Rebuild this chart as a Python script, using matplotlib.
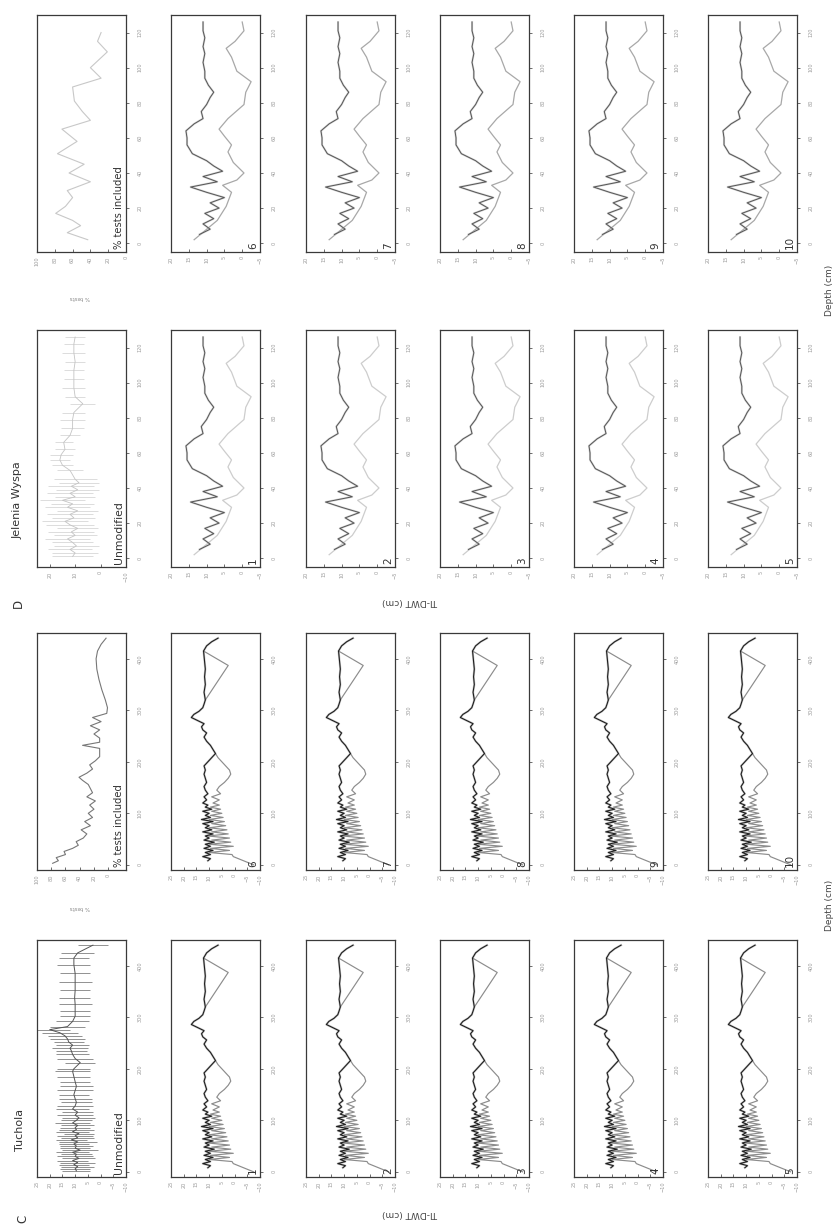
import matplotlib
matplotlib.use('Agg')
import matplotlib.pyplot as plt

# ---------------- data ----------------
# Tuchola: main (black) reconstruction
tu_k_depth = [8, 12, 16, 20, 24, 28, 32, 36, 40, 44,
              48, 52, 56, 60, 64, 68, 72, 76, 80, 84,
              88, 92, 96, 100, 104, 108, 112, 116, 120, 126,
              132, 138, 145, 152, 160, 168, 176, 184, 192, 200,
              208, 216, 224, 232, 240, 248, 256, 262, 268, 274,
              280, 286, 292, 298, 305, 312, 320, 335, 350, 365,
              380, 395, 405, 415, 425, 433, 440]
tu_k_val = [10.5, 9.5, 12.5, 9.5, 11.5, 8.5, 12.0, 9.5, 11.5, 8.0,
            12.0, 10.0, 11.5, 8.5, 12.5, 9.0, 11.5, 10.0, 12.5, 8.5,
            13.0, 9.5, 11.5, 10.0, 12.5, 9.0, 11.5, 10.5, 12.5, 11.0,
            12.0, 10.5, 11.5, 12.0, 11.0, 11.5, 12.0, 11.5, 12.0, 10.5,
            9.0, 7.5, 8.5, 9.5, 11.0, 12.0, 11.0, 12.5, 13.0, 12.0,
            14.5, 17.0, 16.0, 14.0, 12.5, 12.0, 11.5, 12.0, 11.5, 11.8,
            11.5, 11.8, 12.0, 12.2, 11.0, 9.0, 6.5]
# Tuchola: alternative (grey) reconstruction, lower part
tu_g_depth = [0, 4, 8, 12, 16, 20, 24, 28, 32, 36,
              40, 44, 48, 52, 56, 60, 64, 68, 72, 76,
              80, 84, 88, 92, 96, 100, 104, 108, 112, 116,
              120, 126, 132, 138, 145, 152, 160, 168, 176, 184,
              192, 200, 208, 216]
tu_g_val = [-7.5, -5.5, -3.5, -1.5, 0.5, 1.0, 10.0, 2.0, 9.5, 0.5,
            10.0, 1.5, 9.0, 2.0, 10.5, 2.5, 9.0, 3.0, 10.0, 3.5,
            9.0, 4.0, 10.0, 4.5, 9.5, 5.0, 9.0, 5.5, 9.5, 6.0,
            8.5, 6.0, 9.0, 5.5, 7.0, 6.0, 4.0, 2.5, 1.5, 2.0,
            3.5, 5.0, 6.5, 7.5]
# Tuchola: grey excursion near the top
tu_t_depth = [320, 387, 415]
tu_t_val = [11.5, 2.5, 12.2]
# Tuchola: unmodified values with error bars
tu_um_depth = [2, 6, 10, 14, 18, 22, 26, 30, 34, 38,
               42, 46, 50, 54, 58, 62, 66, 70, 74, 78,
               82, 86, 90, 95, 100, 105, 110, 116, 122, 128,
               135, 142, 150, 158, 166, 175, 185, 195, 200, 212,
               220, 228, 235, 240, 246, 252, 258, 264, 270, 276,
               282, 292, 302, 312, 325, 338, 352, 368, 385, 402,
               415, 425, 440]
tu_um_val = [9.5, 10, 9, 10.5, 9, 11, 8.5, 10, 9.5, 11,
             8, 10, 9.5, 10.5, 9, 11.5, 9, 10, 8.5, 11,
             9.5, 10, 9, 11, 9.5, 8.5, 10, 9, 11, 10,
             9.5, 10, 10.5, 10, 9.5, 10, 10.5, 11, 10.5, 8,
             10, 11, 11.5, 12, 11, 12.5, 13, 14, 16, 20,
             13, 11, 10, 10, 10, 10.2, 10, 10, 10, 10.5,
             10.5, 9, 3]
tu_um_err = [5.5, 6, 6.5, 6, 7, 6, 6.5, 7, 6, 6.5,
             7, 6, 6.5, 6, 7.5, 6, 6.5, 7, 6, 6.5,
             7, 6, 6.5, 7, 6, 6.5, 7, 6, 6.5, 7,
             6, 6.5, 6, 7, 6.5, 6, 6.5, 7, 6.5, 6,
             7, 6.5, 6, 7, 6.5, 6, 7, 6.5, 7, 8,
             7, 6.5, 6, 6, 6.5, 6, 6, 6.5, 6, 6.5,
             6, 6.5, 6]
# Tuchola: % tests included
tu_pct_depth = [3, 8, 14, 20, 26, 32, 38, 45, 52, 60,
                68, 76, 84, 92, 100, 108, 116, 124, 132, 140,
                148, 156, 164, 170, 178, 186, 194, 202, 210, 218,
                226, 232, 238, 246, 254, 262, 270, 278, 286, 294,
                305, 320, 340, 360, 380, 400, 415, 428, 440]
tu_pct_val = [78, 70, 73, 60, 62, 50, 42, 45, 35, 30,
              38, 25, 33, 22, 28, 20, 26, 18, 30, 22,
              25, 28, 36, 41, 30, 22, 26, 18, 12, 12,
              12, 36, 12, 12, 20, 12, 25, 10, 22, 2,
              1, 4, 9, 13, 16, 17, 15, 10, 3]

# Jelenia Wyspa: dark reconstruction
jw_k_depth = [5, 8, 11, 14, 17, 20, 23, 26, 29, 32, 35, 38, 41, 44, 47, 51, 56,
              60, 64, 68, 71, 75, 79, 83, 86, 90, 94, 98, 103, 108, 112, 117, 121, 126]
jw_k_val = [12, 9, 11, 8, 10.5, 6.5, 9, 5, 10, 14.5, 7, 11, 5.5, 8, 10, 14, 15.5,
            15.5, 15.8, 13.5, 11, 11.5, 10, 9, 8, 9.5, 10.5, 10.5, 11, 10.5, 11, 10.5, 11, 11]
# Jelenia Wyspa: light reconstruction
jw_l_depth = [2, 13, 21, 29, 33, 36, 40, 46, 52, 56, 61, 65, 71, 79, 86, 92, 98,
              106, 111, 115, 121, 126]
jw_l_val = [13.5, 7, 4.5, 3, 5.5, 1.5, -0.5, 2.5, 4, 3, 5, 6.5, 4, -0.5, -1, -2.5, 1.5,
            3, 4.5, 2, -0.5, 0]
# Jelenia Wyspa: unmodified values with error bars
jw_um_depth = [1, 3, 5, 7, 9, 11, 13, 15, 17, 19, 21, 23, 25, 27, 29, 31, 33, 35, 37, 39,
               41, 43, 45, 50, 53, 56, 59, 62, 66, 70, 74, 79, 83, 88, 92, 97, 102, 107,
               112, 117, 122, 126]
jw_um_val = [11, 10, 12, 9.5, 11, 13, 10, 11.5, 9, 12, 14, 10.5, 12, 9, 13, 11, 15, 10, 12, 9,
             11.5, 8.5, 10, 12, 15, 16, 15.5, 14, 14.5, 12, 11, 11, 10.5, 7, 10, 10.5, 10.5, 10.5,
             10, 10.5, 10.5, 10]
jw_um_err = [8, 9, 8.5, 9, 8, 9, 8.5, 9, 8, 9.5, 9, 8.5, 9, 8, 9, 8.5, 9, 8, 9, 8.5,
             9, 8, 8.5, 5, 4, 4, 4.5, 4, 3.5, 4, 4.5, 5, 4.5, 5, 4, 4.5, 4, 4,
             4, 4.5, 4, 4]
# Jelenia Wyspa: % tests included
jw_pct_depth = [2, 6, 10, 13, 17, 21, 26, 30, 35, 40, 45, 51, 58, 65, 70, 75, 81, 89, 94, 100,
                109, 115, 120]
jw_pct_val = [43, 66, 51, 60, 79, 68, 60, 66, 40, 64, 47, 77, 55, 72, 40, 49, 58, 60, 28, 40,
              21, 32, 28]

panel_ids_a = ['1', '2', '3', '4', '5']
panel_ids_b = ['6', '7', '8', '9', '10']
tu_val_ticks = [25, 20, 15, 10, 5, 0, -5, -10]
tu_depth_ticks = [0, 100, 200, 300, 400]
jw_val_ticks = [20, 15, 10, 5, 0, -5]
jw_um_ticks = [20, 10, 0, -10]
jw_depth_ticks = [0, 20, 40, 60, 80, 100, 120]
pct_ticks = [100, 80, 60, 40, 20, 0]

# ---------------- layout ----------------
W, H = 840, 1227
fig = plt.figure(figsize=(8.4, 12.27), dpi=100)
fig.patch.set_facecolor('white')
plt.rcParams['font.family'] = ['DejaVu Sans']

col_x = [37, 171, 306, 440, 574, 708]
PW, PH = 89, 237
row_y = {'D2': 15, 'D1': 330, 'C2': 633, 'C1': 940}
TICK_C = '#9a9a9a'


def add_panel(xpx, ypx):
    return fig.add_axes([xpx / W, 1 - (ypx + PH) / H, PW / W, PH / H])


def style(ax, xlim, xticks, ylim, yticks):
    ax.set_xlim(*xlim)
    ax.set_ylim(*ylim)
    ax.set_xticks(xticks)
    ax.set_xticklabels([str(t).replace('-', '\u2212') for t in xticks],
                       rotation=90, fontsize=3.6, color=TICK_C)
    ax.yaxis.tick_right()
    ax.set_yticks(yticks)
    ax.set_yticklabels([str(t) for t in yticks], rotation=90, va='center',
                       fontsize=3.6, color=TICK_C)
    ax.tick_params(axis='x', direction='in', length=2.2, width=0.6, color='#555', pad=3)
    ax.tick_params(axis='y', direction='out', length=2.5, width=0.6, color='#555', pad=6)
    for s in ax.spines.values():
        s.set_linewidth(0.9)
        s.set_color('#3a3a3a')


def corner_label(ax, txt, size=7.5, color='#333'):
    ax.text(0.975, 0.012, txt, transform=ax.transAxes, rotation=90,
            ha='right', va='bottom', fontsize=size, color=color)


# ---- C: Tuchola ----
ax = add_panel(col_x[0], row_y['C1'])
ax.errorbar(tu_um_val, tu_um_depth, xerr=tu_um_err, color='#555', ecolor='#666',
            elinewidth=0.5, lw=0.7, capsize=0)
style(ax, (25, -10), tu_val_ticks, (-10, 450), tu_depth_ticks)
corner_label(ax, 'Unmodified', 7.8)

ax = add_panel(col_x[0], row_y['C2'])
ax.plot(tu_pct_val, tu_pct_depth, color='#777', lw=0.8)
style(ax, (100, -25), pct_ticks, (-10, 450), tu_depth_ticks)
corner_label(ax, '% tests included', 7.2)

for i in range(5):
    for row, ids in (('C1', panel_ids_a), ('C2', panel_ids_b)):
        ax = add_panel(col_x[i + 1], row_y[row])
        ax.plot(tu_g_val, tu_g_depth, color='#8c8c8c', lw=0.85)
        ax.plot(tu_t_val, tu_t_depth, color='#8c8c8c', lw=0.85)
        ax.plot(tu_k_val, tu_k_depth, color='#9a9a9a', lw=1.6, alpha=0.5)
        ax.plot(tu_k_val, tu_k_depth, color='#1e1e1e', lw=0.8)
        style(ax, (25, -10), tu_val_ticks, (-10, 450), tu_depth_ticks)
        corner_label(ax, ids[i], 7.5)

# ---- D: Jelenia Wyspa ----
ax = add_panel(col_x[0], row_y['D1'])
ax.errorbar(jw_um_val, jw_um_depth, xerr=jw_um_err, color='#c4c4c4', ecolor='#cfcfcf',
            elinewidth=0.5, lw=0.6, capsize=0)
style(ax, (25, -10), jw_um_ticks, (-5, 130), jw_depth_ticks)
corner_label(ax, 'Unmodified', 7.8)

ax = add_panel(col_x[0], row_y['D2'])
ax.plot(jw_pct_val, jw_pct_depth, color='#c8c8c8', lw=0.8)
style(ax, (100, 0), pct_ticks, (-5, 130), jw_depth_ticks)
corner_label(ax, '% tests included', 7.2)

for i in range(5):
    for row, ids, lcol in (('D1', panel_ids_a, '#cdcdcd'), ('D2', panel_ids_b, '#a8a8a8')):
        ax = add_panel(col_x[i + 1], row_y[row])
        ax.plot(jw_l_val, jw_l_depth, color=lcol, lw=0.9)
        ax.plot(jw_k_val, jw_k_depth, color='#bdbdbd', lw=1.5, alpha=0.6)
        ax.plot(jw_k_val, jw_k_depth, color='#555', lw=0.7)
        style(ax, (20, -5), jw_val_ticks, (-5, 130), jw_depth_ticks)
        corner_label(ax, ids[i], 7.5)

# ---- figure texts ----
def ftext(xpx, ypx, s, rot, size, color='#333', ha='center', va='center'):
    fig.text(xpx / W, 1 - ypx / H, s, rotation=rot, fontsize=size, color=color,
             ha=ha, va=va)

ftext(23, 1219, 'C', 90, 8.5)
ftext(20, 1130, 'Tuchola', 90, 8)
ftext(18, 603, 'D', 90, 8.5)
ftext(18, 500, 'Jelenia Wyspa', 90, 8)
ftext(410, 1213, 'TI-DWT (cm)', 180, 6.5, '#444')
ftext(410, 601, 'TI-DWT (cm)', 180, 6.5, '#444')
ftext(829, 905, 'Depth (cm)', 90, 6.5, '#444')
ftext(829, 290, 'Depth (cm)', 90, 6.5, '#444')
ftext(80, 908, '% tests', 180, 4, '#888')
ftext(80, 298, '% tests', 180, 4, '#888')

fig.savefig('out.png', dpi=100, facecolor='white')
